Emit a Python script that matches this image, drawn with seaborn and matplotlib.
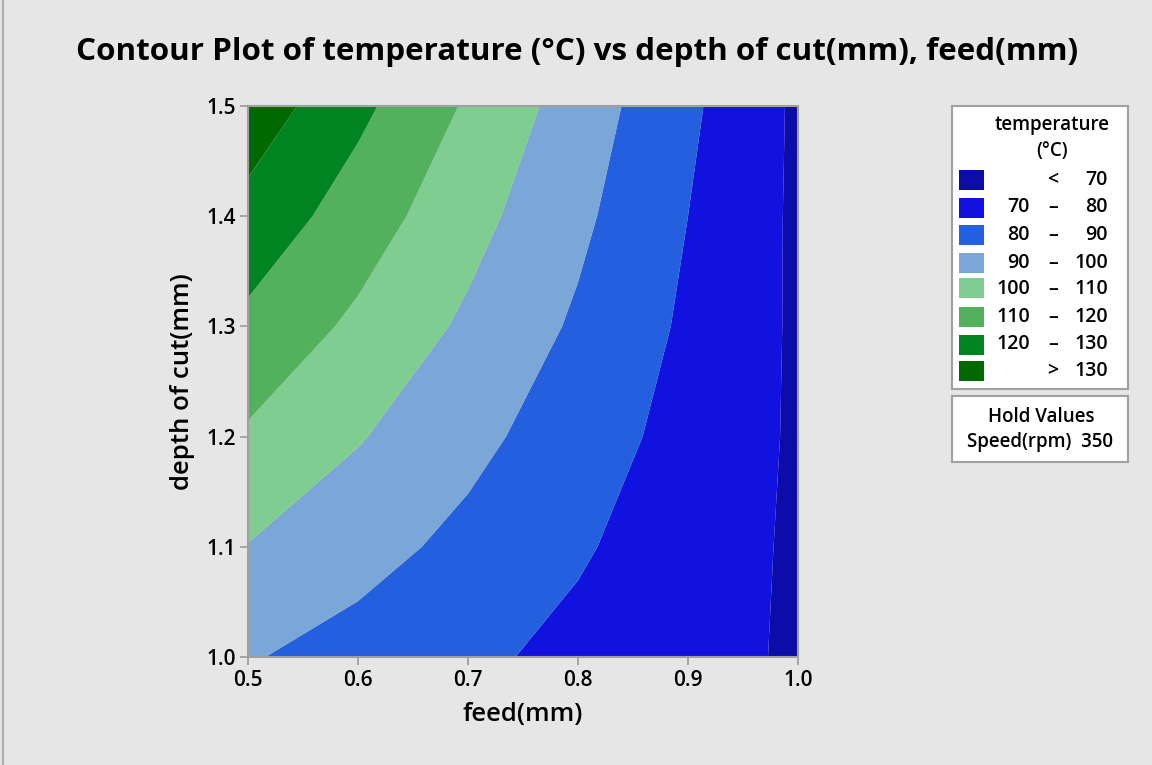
import numpy as np
import pandas as pd
import matplotlib
matplotlib.use("Agg")
import matplotlib.pyplot as plt
import seaborn as sns
from matplotlib.patches import Rectangle
from matplotlib.lines import Line2D

# ---- data (temperature °C on a feed x depth grid) ----
feed = [0.5, 0.6, 0.7, 0.8, 0.9, 1.0]
depth = [1.0, 1.1, 1.2, 1.3, 1.4, 1.5]
temp_d10 = [90.7, 86.3, 81.9, 77.5, 73.2, 68.8]
temp_d11 = [99.7, 93.6, 87.4, 81.1, 74.9, 68.6]
temp_d12 = [108.7, 100.7, 92.8, 84.7, 76.7, 68.7]
temp_d13 = [117.6, 108.0, 98.3, 88.6, 78.4, 68.6]
temp_d14 = [126.8, 115.2, 103.4, 92.1, 80.0, 68.4]
temp_d15 = [136.1, 122.4, 108.8, 95.3, 81.9, 68.4]

levels = [0, 70, 80, 90, 100, 110, 120, 130, 1000]
band_left = ["", "70", "80", "90", "100", "110", "120", ""]
band_mid = ["<", "–", "–", "–", "–", "–", "–", ">"]
band_right = ["70", "80", "90", "100", "110", "120", "130", "130"]
band_colors = ["#0c0ca8", "#1212e0", "#245fe0", "#7ba6d8",
               "#80cd91", "#53b15d", "#008321", "#006a00"]

xticks = [0.5, 0.6, 0.7, 0.8, 0.9, 1.0]
yticks = [1.0, 1.1, 1.2, 1.3, 1.4, 1.5]

title = "Contour Plot of temperature (°C) vs depth of cut(mm), feed(mm)"
xlabel = "feed(mm)"
ylabel = "depth of cut(mm)"
legend_title = ["temperature", "(°C)"]
hold_title = "Hold Values"
hold_text = "Speed(rpm)  350"

# ---- build table ----
rows = [temp_d10, temp_d11, temp_d12, temp_d13, temp_d14, temp_d15]
df = pd.DataFrame(
    [(f, d, t) for d, r in zip(depth, rows) for f, t in zip(feed, r)],
    columns=["feed", "depth", "temp"],
)
grid = df.pivot(index="depth", columns="feed", values="temp")

sns.set_theme(style="white")
plt.rcParams['font.family'] = ['Open Sans', 'DejaVu Sans']

W, H = 1152, 765
BG = "#e6e6e6"
fig = plt.figure(figsize=(W / 100, H / 100), dpi=100, facecolor=BG)

def fx(x):
    return x / W

def fy(y):
    return 1 - y / H

ax = fig.add_axes([fx(248), fy(657), (798 - 248) / W, (657 - 106) / H])
ax.set_facecolor(BG)
X, Y = np.meshgrid(grid.columns.values, grid.index.values)
ax.contourf(X, Y, grid.values, levels=levels, colors=band_colors, antialiased=True)

ax.set_xlim(0.5, 1.0)
ax.set_ylim(1.0, 1.5)
ax.set_xticks(xticks)
ax.set_yticks(yticks)
ax.set_xticklabels([f"{v:.1f}" for v in xticks], fontweight="semibold")
ax.set_yticklabels([f"{v:.1f}" for v in yticks], fontweight="semibold")
ax.tick_params(axis="both", direction="out", length=6, width=1.3, color="#a0a0a0",
               labelsize=15, labelcolor="black", pad=3, bottom=True, left=True)
for s in ax.spines.values():
    s.set_color("#a0a0a0")
    s.set_linewidth(1.5)
ax.set_xlabel(xlabel, fontsize=18.5, labelpad=8, color="black", fontweight="semibold")
ax.set_ylabel(ylabel, fontsize=18.5, labelpad=8, color="black", fontweight="semibold")

fig.text(fx(577), fy(52), title, ha="center", va="center", fontsize=22.6,
         fontweight="bold", color="black")

# ---- legend box ----
fig.patches.append(Rectangle((fx(952), fy(389)), (1128 - 952) / W, (389 - 106) / H,
                             transform=fig.transFigure, facecolor="white",
                             edgecolor="#a0a0a0", linewidth=1.5))
fig.text(fx(1052), fy(125), legend_title[0], ha="center", va="center", fontsize=13.5,
         color="black", fontweight="semibold")
fig.text(fx(1052), fy(151), legend_title[1], ha="center", va="center", fontsize=13.5,
         color="black", fontweight="semibold")
centers = [180, 207.5, 234.5, 263, 288.5, 317, 344.5, 371]
for c, col, l, m, r in zip(centers, band_colors, band_left, band_mid, band_right):
    fig.patches.append(Rectangle((fx(959), fy(c + 10)), 25 / W, 20 / H,
                                 transform=fig.transFigure, facecolor=col, edgecolor="none"))
    if l:
        fig.text(fx(1030), fy(c), l, ha="right", va="center", fontsize=14, color="black",
                 fontweight="semibold")
    fig.text(fx(1053), fy(c), m, ha="center", va="center", fontsize=14, color="black",
             fontweight="semibold")
    fig.text(fx(1108), fy(c), r, ha="right", va="center", fontsize=14, color="black",
             fontweight="semibold")

fig.patches.append(Rectangle((fx(952), fy(462)), (1128 - 952) / W, (462 - 396) / H,
                             transform=fig.transFigure, facecolor="white",
                             edgecolor="#a0a0a0", linewidth=1.5))
fig.text(fx(1041), fy(417), hold_title, ha="center", va="center", fontsize=13.5,
         color="black", fontweight="semibold")
fig.text(fx(1040), fy(442), hold_text, ha="center", va="center", fontsize=13.5,
         color="black", fontweight="semibold")

# left border line of the frame
fig.lines.append(Line2D([fx(3), fx(3)], [0, 1], transform=fig.transFigure,
                        color="#b0b0b0", linewidth=1.5))

fig.savefig("out.png", dpi=100, facecolor=BG)
